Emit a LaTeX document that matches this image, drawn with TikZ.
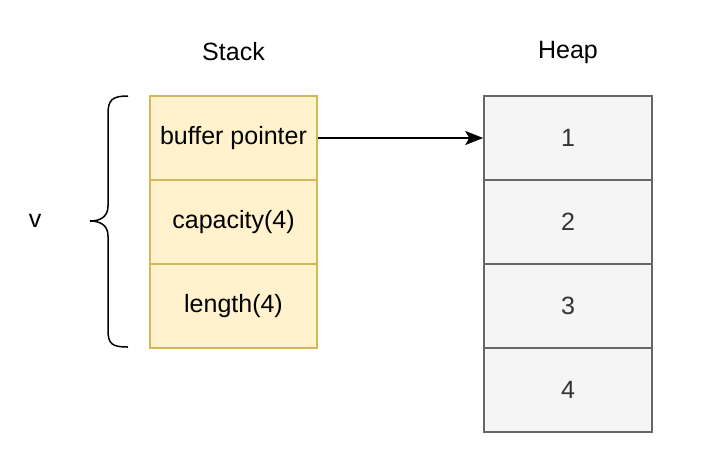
\documentclass[tikz,border=0pt]{standalone}
\usepackage{fontspec}
\setmainfont{Liberation Sans}
\usetikzlibrary{arrows.meta}
\definecolor{stackfill}{HTML}{FFF2CC}
\definecolor{stackline}{HTML}{D6B656}
\definecolor{heapfill}{HTML}{F5F5F5}
\definecolor{heapline}{HTML}{666666}
\definecolor{heaptext}{HTML}{333333}

\begin{document}
\begin{tikzpicture}[x=1pt,y=-1pt,
  stackcell/.style={draw=stackline,fill=stackfill,line width=1.5pt,minimum width=167pt,minimum height=84pt,inner sep=0pt,font=\fontsize{25}{29}\selectfont},
  heapcell/.style={draw=heapline,fill=heapfill,line width=1.5pt,minimum width=168pt,minimum height=84pt,inner sep=0pt,text=heaptext,font=\fontsize{25}{29}\selectfont},
  title/.style={font=\fontsize{25}{29}\selectfont}]
	\useasboundingbox (0,0) rectangle (708,464);
	% titles
	\node[title] (stacktitle) at (233.5,52) {Stack};
	\node[title] (heaptitle) at (568,52) {Heap};
	% stack cells
	\node[stackcell] (buffer) at (233.5,138) {buffer pointer};
	\node[stackcell] (capacity) at (233.5,222) {capacity(4)};
	\node[stackcell] (length) at (233.5,306) {length(4)};
	% heap cells
	\foreach \i in {1,...,4}
	  \node[heapcell] (h\i) at (568,{138+84*(\i-1)}) {\i};
	% pointer
	\draw[line width=1.5pt,-{Stealth[length=18pt,width=14pt,inset=4pt]}] (buffer.east) -- (h1.west);
	% brace
	\draw[line width=1.5pt] (128,96) .. controls (112,96) and (108,100) .. (108,114) -- (108,206)
	  .. controls (108,217) and (100,221) .. (90,221)
	  .. controls (100,221) and (108,225) .. (108,236) -- (108,330)
	  .. controls (108,344) and (112,347) .. (128,347);
	% variable label
	\node[title] (v) at (35,221) {v};
\end{tikzpicture}
\end{document}
